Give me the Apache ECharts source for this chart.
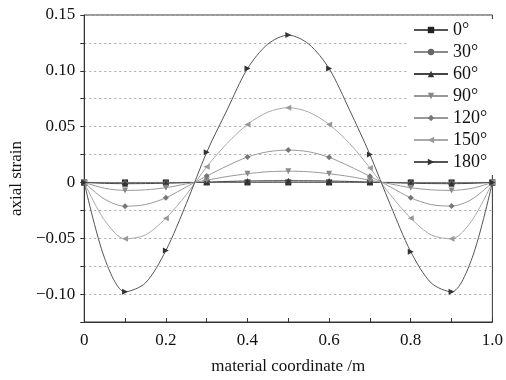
<!DOCTYPE html>
<html>
<head>
<meta charset="utf-8">
<script src="https://cdn.jsdelivr.net/npm/echarts@6/dist/echarts.min.js"></script>
<style>
html, body { margin: 0; padding: 0; background: #fff; }
#container { width: 506px; height: 380px; }
</style>
</head>
<body>
<div id="container"></div>
<script>
let chart = echarts.init(document.getElementById('container'));

// material coordinate (m), read every 0.05; markers only at every 0.1
var coords = [0, 0.05, 0.1, 0.15, 0.2, 0.25, 0.3, 0.35, 0.4, 0.45, 0.5,
              0.55, 0.6, 0.65, 0.7, 0.75, 0.8, 0.85, 0.9, 0.95, 1.0];
var angleNames = ['0°', '30°', '60°', '90°', '120°', '150°', '180°'];

var strain0 = [0, 0, 0, 0, 0, 0, 0, 0, 0, 0, 0, 0, 0, 0, 0, 0, 0, 0, 0, 0, 0];
var strain30 = [0, -0.0002, -0.0003, -0.0003, -0.0002, 0, 0.0001, 0.0003, 0.0004, 0.0005, 0.0005,
                0.0005, 0.0004, 0.0003, 0.0001, 0, -0.0002, -0.0003, -0.0003, -0.0002, 0];
var strain60 = [0, -0.0008, -0.0011, -0.001, -0.0007, -0.0002, 0.0003, 0.0009, 0.0013, 0.0015, 0.0016,
                0.0015, 0.0013, 0.0009, 0.0003, -0.0002, -0.0007, -0.001, -0.0011, -0.0008, 0];
var strain90 = [0, -0.0052, -0.0071, -0.0066, -0.0047, -0.0013, 0.002, 0.0053, 0.0078, 0.0096, 0.0101,
                0.0096, 0.0078, 0.0053, 0.002, -0.0013, -0.0047, -0.0066, -0.0071, -0.0052, 0];
var strain120 = [0, -0.015, -0.0213, -0.0198, -0.0138, -0.004, 0.0057, 0.0148, 0.0228, 0.0275, 0.029,
                 0.0275, 0.0225, 0.0145, 0.0055, -0.004, -0.0138, -0.0198, -0.0212, -0.015, 0];
var strain150 = [0, -0.034, -0.0505, -0.047, -0.032, -0.011, 0.014, 0.035, 0.052, 0.063, 0.067,
                 0.063, 0.052, 0.035, 0.013, -0.011, -0.032, -0.047, -0.0505, -0.034, 0];
var strain180 = [0, -0.068, -0.098, -0.09, -0.061, -0.019, 0.027, 0.065, 0.102, 0.124, 0.132,
                 0.124, 0.102, 0.065, 0.025, -0.02, -0.062, -0.09, -0.098, -0.068, 0];

var allStrains = [strain0, strain30, strain60, strain90, strain120, strain150, strain180];

var symbols = ['rect', 'circle', 'triangle', 'triangle', 'diamond', 'triangle', 'triangle'];
var rotates = [0, 0, 0, 180, 0, 90, -90];
var markColors = ['#222', '#666', '#333', '#888', '#777', '#999', '#333'];
var lineColors = ['#555', '#888', '#444', '#999', '#999', '#aaa', '#555'];

var font = '"Liberation Serif", "Times New Roman", serif';

function fmtY(v) {
    if (Math.abs(v * 20 - Math.round(v * 20)) > 1e-6) {
        return '';
    }
    if (Math.abs(v) < 1e-9) {
        return '0';
    }
    let s = Math.abs(v).toFixed(2);
    return v < 0 ? '\u2212' + s : s;
}

function fmtX(v) {
    let r = Math.round(v * 10);
    if (r % 2) {
        return '';
    }
    if (r == 0) {
        return '0';
    }
    return (r / 10).toFixed(1);
}

var series = [];
allStrains.forEach((values, i) => {
    series.push({
        name: angleNames[i],
        type: 'line',
        smooth: 0.3,
        animation: false,
        symbol: symbols[i],
        symbolRotate: rotates[i],
        symbolSize: (val, params) => params.dataIndex % 2 ? 0 : (symbols[i] == 'circle' ? 5 : 6),
        showAllSymbol: true,
        itemStyle: { color: markColors[i] },
        lineStyle: { color: lineColors[i], width: 1 },
        data: coords.map((x, k) => [x, values[k]]),
        z: 2 + i,
    });
});

var option = {
    backgroundColor: '#fff',
    textStyle: { fontFamily: font },
    grid: {
        left: 82,
        right: 6,
        top: 15,
        bottom: 58,
        show: true,
        borderColor: '#333',
        borderWidth: 1,
    },
    legend: {
        data: angleNames,
        orient: 'vertical',
        left: 408,
        top: 19,
        itemWidth: 34,
        itemHeight: 8,
        itemGap: 4,
        padding: [2, 8, 4, 5],
        backgroundColor: '#fff',
        textStyle: { fontFamily: font, fontSize: 18, color: '#111' },
    },
    xAxis: {
        type: 'value',
        min: 0,
        max: 1,
        interval: 0.1,
        name: 'material coordinate /m',
        nameLocation: 'middle',
        nameGap: 36,
        nameTextStyle: { fontFamily: font, fontSize: 17, color: '#111' },
        axisLine: { onZero: false, lineStyle: { color: '#333' } },
        axisTick: { inside: true, length: 4, lineStyle: { color: '#333' } },
        axisLabel: { formatter: fmtX, fontFamily: font, fontSize: 17, color: '#111', margin: 10 },
        splitLine: { show: false },
    },
    yAxis: {
        type: 'value',
        min: -0.125,
        max: 0.15,
        interval: 0.025,
        name: 'axial strain',
        nameLocation: 'middle',
        nameGap: 57,
        nameTextStyle: { fontFamily: font, fontSize: 17, color: '#111', padding: [0, 20, 0, 0] },
        axisLine: { show: true, lineStyle: { color: '#333' } },
        axisTick: { length: 4, lineStyle: { color: '#333' } },
        axisLabel: { formatter: fmtY, fontFamily: font, fontSize: 17, color: '#111', margin: 9 },
        splitLine: { show: true, lineStyle: { color: '#aaa', type: [2, 3], width: 1 } },
    },
    series: series,
};

chart.setOption(option);
</script>
</body>
</html>
